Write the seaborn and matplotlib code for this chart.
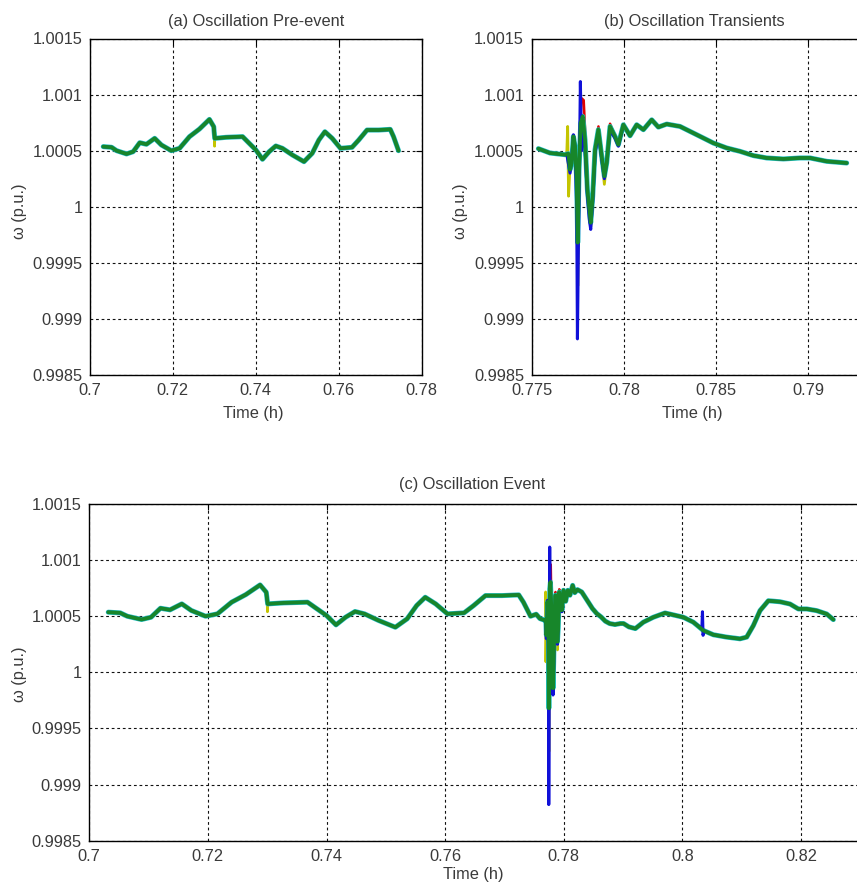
import numpy as np
import pandas as pd
import matplotlib
matplotlib.use("Agg")
import matplotlib.pyplot as plt
import seaborn as sns

# ---------------- data ----------------
# main (green) rotor-speed trace, time in hours, speed in p.u.
t_base = [0.70320, 0.70521, 0.70641, 0.70881, 0.71041, 0.71200, 0.71361, 0.71560,
          0.71721, 0.71961, 0.72160, 0.72400, 0.72640, 0.72880, 0.72984, 0.73008,
          0.73281, 0.73680, 0.73761, 0.74001, 0.74160, 0.74321, 0.74481, 0.74640,
          0.74880, 0.75161, 0.75360, 0.75520, 0.75665, 0.75841, 0.76041, 0.76320,
          0.76481, 0.76681, 0.76961, 0.77242, 0.77321, 0.77441,
          0.775362, 0.775994, 0.776808, 0.776988, 0.777079, 0.777169, 0.777260,
          0.777350, 0.777440, 0.777495, 0.777567, 0.777657, 0.777766, 0.777892,
          0.778019, 0.778127, 0.778200, 0.778308, 0.778435, 0.778615, 0.778796,
          0.778941, 0.779067, 0.779248, 0.779519, 0.779700, 0.779971, 0.780333,
          0.780694, 0.781056, 0.781508, 0.781869, 0.782321, 0.783044, 0.783767,
          0.784852, 0.785575, 0.786298, 0.787021, 0.787744, 0.788648, 0.789552,
          0.790094, 0.790998, 0.792082,
          0.793430, 0.795116, 0.797084, 0.798489, 0.800176, 0.801862, 0.803549,
          0.805235, 0.807484, 0.809733, 0.810857, 0.811981, 0.813103, 0.814508,
          0.816476, 0.818162, 0.819568, 0.820973, 0.822659, 0.824346, 0.825470]
w_base = [1.000536, 1.000530, 1.000500, 1.000471, 1.000491, 1.000571, 1.000557, 1.000610,
          1.000551, 1.000500, 1.000521, 1.000625, 1.000693, 1.000779, 1.000714, 1.000610,
          1.000619, 1.000625, 1.000595, 1.000506, 1.000423, 1.000491, 1.000542, 1.000521,
          1.000462, 1.000402, 1.000477, 1.000595, 1.000669, 1.000610, 1.000521, 1.000530,
          1.000595, 1.000684, 1.000684, 1.000690, 1.000625, 1.000500,
          1.000518, 1.000479, 1.000464, 1.000473, 1.000331, 1.000390, 1.000627,
          1.000538, 1.000242, 0.999680, 1.000331, 1.000746, 1.000805, 1.000598,
          1.000154, 0.999976, 0.999858, 1.000094, 1.000509, 1.000687, 1.000450,
          1.000272, 1.000390, 1.000716, 1.000627, 1.000553, 1.000731, 1.000633,
          1.000731, 1.000687, 1.000775, 1.000710, 1.000737, 1.000716, 1.000657,
          1.000568, 1.000524, 1.000494, 1.000456, 1.000435, 1.000426, 1.000435,
          1.000435, 1.000405, 1.000390,
          1.000447, 1.000491, 1.000529, 1.000512, 1.000491, 1.000447, 1.000373,
          1.000335, 1.000314, 1.000299, 1.000314, 1.000417, 1.000550, 1.000638,
          1.000629, 1.000609, 1.000565, 1.000565, 1.000550, 1.000520, 1.000470]

# other measurement traces where they separate from the green one
t_red_ev = [0.77690, 0.77708, 0.77726, 0.77744, 0.77750, 0.77757, 0.77770, 0.77782,
            0.77792, 0.77802, 0.77813, 0.77820, 0.77831, 0.77844, 0.77862, 0.77880,
            0.77894, 0.77907, 0.77925, 0.77952, 0.77970]
w_red_ev = [1.000470, 1.000350, 1.000600, 1.000250, 0.999700, 1.000350, 1.000968, 1.000950,
            1.000600, 1.000150, 0.999950, 0.999870, 1.000100, 1.000520, 1.000716, 1.000450,
            1.000290, 1.000400, 1.000740, 1.000630, 1.000550]

t_yel_pre = [0.72984, 0.73000, 0.73004, 0.73008]
w_yel_pre = [1.000714, 1.000690, 1.000540, 1.000610]
t_yel_ev = [0.77690, 0.77695, 0.77700, 0.77706, 0.77716, 0.77726, 0.77735, 0.77744,
            0.77750, 0.77757, 0.77766, 0.77777, 0.77789, 0.77802, 0.77813, 0.77820,
            0.77831, 0.77844, 0.77862, 0.77880, 0.77894, 0.77907, 0.77925, 0.77952,
            0.77970]
w_yel_ev = [1.000470, 1.000716, 1.000094, 1.000300, 1.000400, 1.000600, 1.000520, 1.000200,
            0.999295, 1.000300, 1.000720, 1.000760, 1.000550, 1.000150, 0.999920, 0.999820,
            1.000080, 1.000480, 1.000690, 1.000430, 1.000200, 1.000390, 1.000700, 1.000620,
            1.000550]

t_blu_ev = [0.77690, 0.77708, 0.77717, 0.77726, 0.77735, 0.77744, 0.77748, 0.77753,
            0.77759, 0.77764, 0.77770, 0.77777, 0.77789, 0.77802, 0.77813, 0.77820,
            0.77831, 0.77844, 0.77862, 0.77880, 0.77894, 0.77907, 0.77925, 0.77952,
            0.77970]
w_blu_ev = [1.000470, 1.000300, 1.000420, 1.000642, 1.000540, 1.000000, 0.998822, 0.999600,
            1.000400, 1.001116, 1.000500, 1.000700, 1.000520, 1.000100, 0.999880, 0.999798,
            1.000050, 1.000480, 1.000650, 1.000420, 1.000250, 1.000400, 1.000680, 1.000610,
            1.000540]
t_blu_post = [0.80330, 0.80340, 0.80350, 0.80365]
w_blu_post = [1.000390, 1.000540, 1.000330, 1.000370]

# axis ticks / labels
y_ticks = [0.9985, 0.999, 0.9995, 1.0, 1.0005, 1.001, 1.0015]
y_ticklabels = ["0.9985", "0.999", "0.9995", "1", "1.0005", "1.001", "1.0015"]
xa_ticks = [0.70, 0.72, 0.74, 0.76, 0.78]
xa_ticklabels = ["0.7", "0.72", "0.74", "0.76", "0.78"]
xb_ticks = [0.775, 0.78, 0.785, 0.79]
xb_ticklabels = ["0.775", "0.78", "0.785", "0.79"]
xc_ticks = [0.70, 0.72, 0.74, 0.76, 0.78, 0.80, 0.82]
xc_ticklabels = ["0.7", "0.72", "0.74", "0.76", "0.78", "0.8", "0.82"]

titles = ["(a) Oscillation Pre-event", "(b) Oscillation Transients", "(c) Oscillation Event"]
xlabel = "Time (h)"
ylabel = "\u03c9 (p.u.)"


def build(windows):
    t = np.array(t_base)
    w = np.array(w_base)
    keep = np.ones(len(t), bool)
    ts, ws = [], []
    for te, we in windows:
        keep &= ~((t >= min(te)) & (t <= max(te)))
        ts.append(np.array(te))
        ws.append(np.array(we))
    T = np.concatenate([t[keep]] + ts)
    W = np.concatenate([w[keep]] + ws)
    o = np.argsort(T)
    return pd.DataFrame({"t": T[o], "w": W[o]})


series = [
    ("red", build([(t_red_ev, w_red_ev)]), "#e00000", 1.8),
    ("yellow", build([(t_yel_pre, w_yel_pre), (t_yel_ev, w_yel_ev)]), "#c4c400", 2.0),
    ("cyan", build([]), "#22c0c0", 3.6),
    ("blue", build([(t_blu_ev, w_blu_ev), (t_blu_post, w_blu_post)]), "#1010d8", 2.2),
    ("green", build([]), "#17862a", 2.7),
]

# ---------------- figure ----------------
sns.set_style("white")
plt.rcParams["font.family"] = ["Liberation Sans", "DejaVu Sans"]
W, H = 857, 891
fig = plt.figure(figsize=(W / 100, H / 100), dpi=100)
txt = "#3a3a3a"
fs = 11.8


def px_axes(left, top, right, bottom):
    return fig.add_axes([left / W, (H - bottom) / H, (right - left) / W, (bottom - top) / H])


ax_a = px_axes(90, 38.5, 421.7, 375)
ax_b = px_axes(531.7, 38.5, 531.7 + (0.7935 - 0.775) * 18440, 375)
ax_c = px_axes(89.3, 504, 89.3 + (0.832 - 0.70) * 5930, 840.7)

panels = [
    (ax_a, (0.70, 0.78), xa_ticks, xa_ticklabels, (0.0, 0.7745), 0.50, 9, 0.491, -0.092, -0.19, 0.487),
    (ax_b, (0.775, 0.7935), xb_ticks, xb_ticklabels, (0.7753, 0.7921), 0.478, 9, 0.47, -0.092, -0.186, 0.487),
    (ax_c, (0.70, 0.832), xc_ticks, xc_ticklabels, (0.0, 1.0), 0.4895, 11, 0.49, -0.078, -0.0795, 0.495),
]

for i, (ax, xl, xt, xtl, rng, tx, tpad, lx, ly, yx, yy) in enumerate(panels):
    for name, df, col, lw in series:
        d = df[(df["t"] >= rng[0]) & (df["t"] <= rng[1])]
        sns.lineplot(data=d, x="t", y="w", ax=ax, color=col, linewidth=lw,
                     estimator=None, sort=False, legend=False)
    ax.set_xlim(*xl)
    ax.set_ylim(0.9985, 1.0015)
    ax.set_xticks(xt)
    ax.set_xticklabels(xtl)
    ax.set_yticks(y_ticks)
    ax.set_yticklabels(y_ticklabels)
    ax.set_axisbelow(True)
    ax.grid(True, color="#111111", linestyle=(0, (2.5, 2.5)), linewidth=0.8)
    ax.tick_params(direction="in", length=4, width=0.8, top=True, right=True,
                   labelsize=fs, labelcolor=txt, color="black")
    ax.tick_params(axis="x", pad=6)
    ax.tick_params(axis="y", pad=5.5)
    for s in ax.spines.values():
        s.set_visible(True)
        s.set_color("black")
        s.set_linewidth(1.0)
    ax.set_title(titles[i], fontsize=fs, color=txt, x=tx, pad=tpad)
    ax.set_xlabel(xlabel, fontsize=fs, color=txt)
    ax.xaxis.set_label_coords(lx, ly)
    ax.set_ylabel(ylabel, fontsize=fs, color=txt)
    ax.yaxis.set_label_coords(yx, yy)

fig.savefig("out.png", dpi=100)
